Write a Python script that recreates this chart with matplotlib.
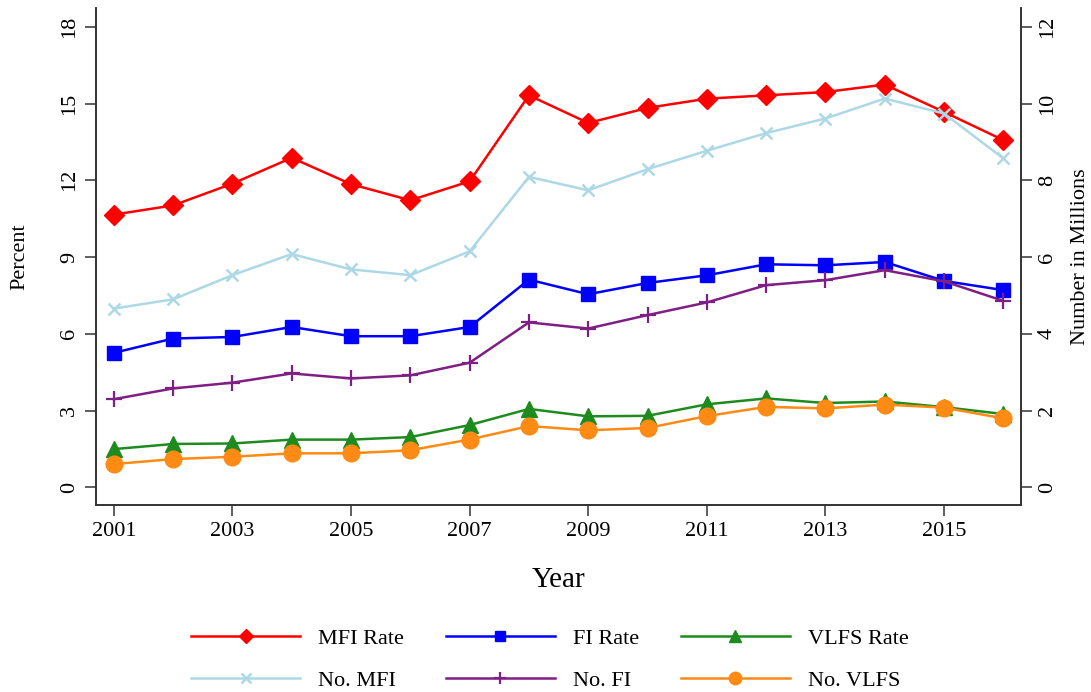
import matplotlib
matplotlib.use("Agg")
import matplotlib.pyplot as plt

plt.rcParams['font.family'] = ['Liberation Serif', 'DejaVu Serif']

years = list(range(2001, 2017))

# Rates (percent, left axis)
mfi_rate = [10.66, 11.02, 11.87, 12.88, 11.85, 11.22, 11.96, 15.32,
            14.24, 14.83, 15.19, 15.32, 15.45, 15.74, 14.67, 13.57]
fi_rate = [5.26, 5.82, 5.88, 6.27, 5.91, 5.91, 6.27, 8.12,
           7.55, 7.99, 8.29, 8.72, 8.68, 8.81, 8.07, 7.71]
vlfs_rate = [1.50, 1.70, 1.72, 1.87, 1.87, 1.97, 2.44, 3.07,
             2.78, 2.80, 3.25, 3.48, 3.30, 3.36, 3.14, 2.87]

# Counts (millions, right axis)
no_mfi = [4.66, 4.90, 5.53, 6.08, 5.68, 5.53, 6.15, 8.09,
          7.74, 8.29, 8.77, 9.23, 9.61, 10.13, 9.74, 8.57]
no_fi = [2.30, 2.58, 2.73, 2.97, 2.84, 2.92, 3.25, 4.30,
         4.14, 4.49, 4.82, 5.27, 5.40, 5.66, 5.37, 4.86]
no_vlfs = [0.61, 0.74, 0.80, 0.89, 0.89, 0.97, 1.25, 1.60,
           1.49, 1.55, 1.86, 2.10, 2.06, 2.16, 2.08, 1.80]

left_ticks = [0, 3, 6, 9, 12, 15, 18]
right_ticks = [0, 2, 4, 6, 8, 10, 12]
x_ticks = [2001, 2003, 2005, 2007, 2009, 2011, 2013, 2015]

fig = plt.figure(figsize=(10.91, 6.92), dpi=100)
ax = fig.add_axes([0.088, 0.270, 0.848, 0.718])
ax2 = ax.twinx()

lw = 1.8
h1, = ax.plot(years, mfi_rate, color='#FF0000', lw=lw, marker='D', ms=10, label='MFI Rate')
h2, = ax.plot(years, fi_rate, color='#0000FF', lw=lw, marker='s', ms=10, label='FI Rate')
h3, = ax.plot(years, vlfs_rate, color='#1E8B1E', lw=lw, marker='^', ms=11, label='VLFS Rate')
h4, = ax2.plot(years, no_mfi, color='#ADD8E6', lw=lw, marker='x', ms=9, mew=1.8, label='No. MFI')
h5, = ax2.plot(years, no_fi, color='#7F1E85', lw=lw, marker='+', ms=12, mew=1.6, label='No. FI')
h6, = ax2.plot(years, no_vlfs, color='#FF8A14', lw=lw, marker='o', ms=12, label='No. VLFS')

ax.set_xlim(2000.7, 2016.3)
ax.set_ylim(-0.69, 18.72)
ax2.set_ylim(-0.69 * 2 / 3, 18.72 * 2 / 3)

ax.set_xticks(x_ticks)
ax.set_yticks(left_ticks)
ax2.set_yticks(right_ticks)

for a in (ax, ax2):
    a.spines['top'].set_visible(False)
    for s in a.spines.values():
        s.set_color('#333333')
        s.set_linewidth(1.2)
    a.tick_params(direction='out', length=8, width=1.1, color='#333333',
                  labelsize=16, pad=4)

for lab in ax.get_yticklabels():
    lab.set_rotation(90)
    lab.set_va('center')
for lab in ax2.get_yticklabels():
    lab.set_rotation(90)
    lab.set_va('center')

ax.set_xlabel('Year', fontsize=21, labelpad=19)
ax.set_ylabel('Percent', fontsize=16, labelpad=22)
ax2.set_ylabel('Number in Millions', fontsize=16, labelpad=10)

handles = [h1, h4, h2, h5, h3, h6]
fig.legend(handles=handles, labels=[h.get_label() for h in handles],
           loc='center', bbox_to_anchor=(0.504, 0.047), ncol=3, frameon=False,
           fontsize=16, handlelength=4.9, handletextpad=0.8, columnspacing=1.9,
           labelspacing=0.95, markerscale=0.75)

fig.savefig('out.png', dpi=100)
